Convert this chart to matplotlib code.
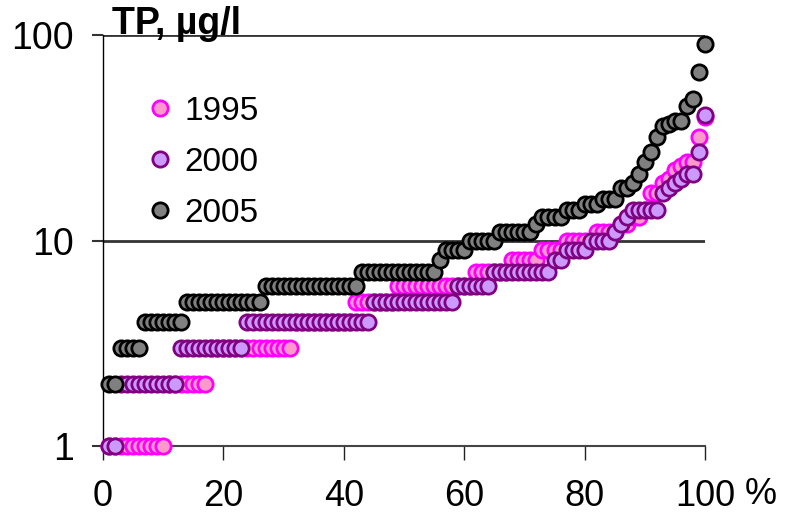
import numpy as np
import matplotlib
matplotlib.use("Agg")
import matplotlib.pyplot as plt

plt.rcParams["font.family"] = ["Liberation Sans", "DejaVu Sans"]

# sorted total phosphorus values (µg/l), one entry per lake, per survey year
tp_1995 = (
    [1] * 10 + [2] * 7 + [3] * 14 + [4] * 10 + [5] * 7 + [6] * 13 + [7] * 6
    + [8] * 5 + [9] * 4 + [10] * 5 + [11] * 4 + [12] * 2 + [13] * 2 + [14]
    + [17] * 2 + [19, 20, 22, 23] + [24] * 2 + [32, 40]
)
tp_2000 = (
    [1] * 2 + [2] * 10 + [3] * 11 + [4] * 21 + [5] * 14 + [6] * 6 + [7] * 10
    + [8] * 2 + [9] * 4 + [10] * 4 + [11, 12, 13] + [14] * 5
    + [17, 18, 19, 20] + [21] * 2 + [27, 41]
)
tp_2005 = (
    [2] * 2 + [3] * 4 + [4] * 7 + [5] * 13 + [6] * 16 + [7] * 13 + [8]
    + [9] * 4 + [10] * 5 + [11] * 6 + [12] + [13] * 4 + [14] * 3 + [15] * 3
    + [16] * 3 + [18] * 2 + [19, 21, 24, 27, 32, 36, 37] + [38] * 2
    + [45, 49, 66, 90]
)

series = {
    "1995": (tp_1995, "#FF99CC", "#FF00FF"),
    "2000": (tp_2000, "#CC99FF", "#800080"),
    "2005": (tp_2005, "#808080", "#000000"),
}
x_ticks = [0, 20, 40, 60, 80, 100]
y_ticks = [1, 10, 100]


def cumulative_percent(values):
    n = len(values)
    return 100.0 * np.arange(1, n + 1) / n, np.sort(values)


fig = plt.figure(figsize=(7.85, 5.17), dpi=100)
ax = fig.add_axes([0.1312, 0.1373, 0.7669, 0.7950])

for label, (vals, face, edge) in series.items():
    x, y = cumulative_percent(vals)
    ax.plot(
        x, y, "o", ms=11, mfc=face, mec=edge, mew=2.0,
        label=label, clip_on=False, zorder=3,
    )

ax.set_yscale("log")
ax.set_xlim(0, 100)
ax.set_ylim(1, 100)
ax.set_xticks(x_ticks)
ax.set_xticklabels([str(t) for t in x_ticks])
ax.set_yticks(y_ticks)
ax.set_yticklabels([str(t) for t in y_ticks])
ax.yaxis.set_minor_locator(matplotlib.ticker.NullLocator())

for yv in y_ticks[1:]:
    ax.axhline(yv, color="#333333", lw=2.0, zorder=1)

ax.spines[["right", "top"]].set_visible(False)
ax.spines["left"].set_color("black")
ax.spines["left"].set_linewidth(1.0)
ax.spines["bottom"].set_color("#444444")
ax.spines["bottom"].set_linewidth(1.5)

ax.tick_params(axis="x", direction="out", length=10, width=1.0,
               labelsize=26, pad=14, color="#222222")
ax.tick_params(axis="y", direction="out", length=8, width=1.5,
               labelsize=27, pad=13, color="#333333")

fig.text(112 / 785, 1 - 24 / 517, "TP, \u00b5g/l", fontsize=27,
         fontweight="bold", va="center", ha="left")
fig.text(745 / 785, 1 - 494 / 517, "%", fontsize=26, va="center", ha="left")

ax.legend(loc="upper left", bbox_to_anchor=(0.05, 0.885), frameon=False,
          fontsize=24, handlelength=0.8, handletextpad=0.35,
          labelspacing=0.6, borderaxespad=0)

fig.savefig("out.png", dpi=100)
